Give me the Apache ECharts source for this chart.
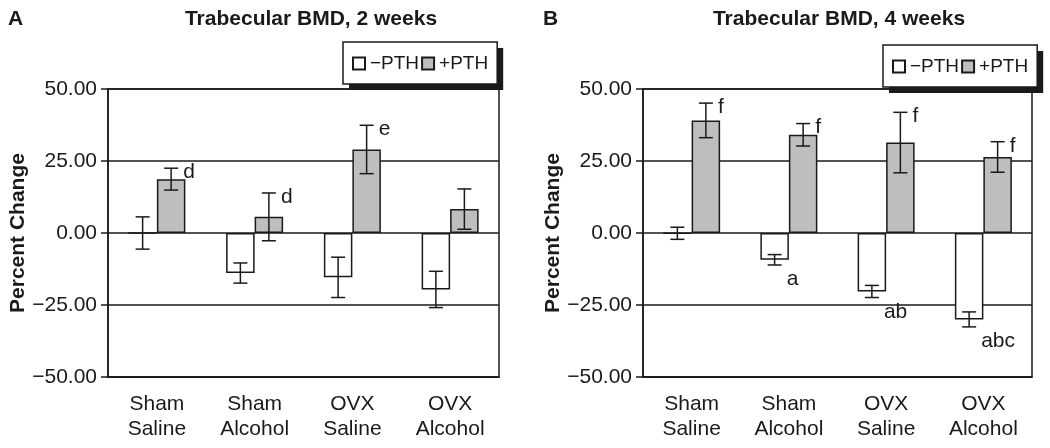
<!DOCTYPE html>
<html>
<head>
<meta charset="utf-8">
<title>Trabecular BMD</title>
<script src="https://cdn.jsdelivr.net/npm/echarts@6/dist/echarts.min.js"></script>
<style>
html, body {
  margin: 0;
  padding: 0;
  background: #fff;
}
#chart {
  width: 1050px;
  height: 448px;
}
</style>
</head>
<body>
<div id="chart"></div>
<script>
// categories
const groups = ["Sham\nSaline", "Sham\nAlcohol", "OVX\nSaline", "OVX\nAlcohol"];
const yTicks = [-50, -25, 0, 25, 50];

// panel A, 2 weeks (percent change, mean and error)
const minusPth2 = [0.0, -13.9, -15.4, -19.6];
const minusPth2Err = [5.6, 3.5, 7.0, 6.3];
const plusPth2 = [18.7, 5.6, 29.0, 8.3];
const plusPth2Err = [3.8, 8.3, 8.4, 7.0];
const minusPth2Sig = ["", "", "", ""];
const plusPth2Sig = ["d", "d", "e", ""];

// panel B, 4 weeks
const minusPth4 = [-0.1, -9.3, -20.3, -30.0];
const minusPth4Err = [2.1, 1.8, 2.1, 2.6];
const plusPth4 = [39.1, 34.1, 31.4, 26.4];
const plusPth4Err = [6.0, 3.9, 10.5, 5.3];
const minusPth4Sig = ["", "a", "ab", "abc"];
const plusPth4Sig = ["f", "f", "f", "f"];

const FONT = "'Liberation Sans', Arial, Helvetica, sans-serif";
const INK = "#1a1a1a";
const GREY = "#bebebe";
const BAR_W = 28.5;

function fmtTick(v) {
  return (v < 0 ? "\u2212" : "") + Math.abs(v).toFixed(2);
}

// error bars (and the significance letters) drawn on top of each bar
function errorSeries(gridIdx, means, errs, sigs, side) {
  return {
    type: "custom",
    xAxisIndex: gridIdx,
    yAxisIndex: gridIdx,
    z: 5,
    silent: true,
    data: means.map((m, i) => [i, m, errs[i]]),
    renderItem: function (params, api) {
      const i = api.value(0);
      const m = api.value(1);
      const e = api.value(2);
      const sig = sigs[i];
      const c = api.coord([i, m]);
      const cx = c[0] + side * BAR_W / 2;
      const top = api.coord([i, m + e])[1];
      const bot = api.coord([i, m - e])[1];
      const cap = 7;
      const ls = { stroke: INK, lineWidth: 1.5 };
      const children = [
        { type: "line", shape: { x1: cx, y1: top, x2: cx, y2: bot }, style: ls },
        { type: "line", shape: { x1: cx - cap, y1: top, x2: cx + cap, y2: top }, style: ls },
        { type: "line", shape: { x1: cx - cap, y1: bot, x2: cx + cap, y2: bot }, style: ls }
      ];
      if (sig) {
        const up = m >= 0;
        children.push({
          type: "text",
          style: {
            text: sig,
            x: cx + 12,
            y: up ? top + 4 : bot + 4,
            align: "left",
            verticalAlign: up ? "middle" : "top",
            font: "21px " + FONT,
            fill: INK
          }
        });
      }
      return { type: "group", children: children };
    }
  };
}

function barSeries(gridIdx, name, values, fill) {
  return {
    name: name,
    type: "bar",
    xAxisIndex: gridIdx,
    yAxisIndex: gridIdx,
    barWidth: BAR_W,
    barGap: "0%",
    data: values,
    itemStyle: { color: fill, borderColor: INK, borderWidth: 1.5 }
  };
}

function xAxisFor(gridIdx) {
  return {
    type: "category",
    gridIndex: gridIdx,
    data: groups,
    axisLine: { onZero: false, lineStyle: { color: INK, width: 1.5 } },
    axisTick: { show: false },
    axisLabel: {
      color: INK,
      fontFamily: FONT,
      fontSize: 21,
      lineHeight: 25,
      margin: 15
    }
  };
}

function yAxisFor(gridIdx) {
  return {
    type: "value",
    gridIndex: gridIdx,
    min: yTicks[0],
    max: yTicks[yTicks.length - 1],
    interval: 25,
    name: "Percent Change",
    nameLocation: "middle",
    nameGap: 77,
    nameTextStyle: { color: INK, fontFamily: FONT, fontSize: 21, fontWeight: "bold" },
    axisLine: { show: true, lineStyle: { color: INK, width: 1.5 } },
    axisTick: { show: true, length: 7, lineStyle: { color: INK, width: 1.5 } },
    axisLabel: {
      color: INK,
      fontFamily: FONT,
      fontSize: 21,
      margin: 11,
      formatter: fmtTick
    },
    splitLine: { show: true, lineStyle: { color: INK, width: 1.5 } }
  };
}

// the box with its hard black drop shadow: a black copy of the legend sits
// underneath, shifted down and right
function legendFor(left, top, shadow) {
  return {
    data: ["\u2212PTH", "+PTH"],
    left: shadow ? left + 6 : left,
    top: shadow ? top + 6 : top,
    z: shadow ? 3 : 4,
    orient: "horizontal",
    padding: [12, 9, 11, 9],
    itemGap: 2,
    itemWidth: 12,
    itemHeight: 12,
    icon: "rect",
    selectedMode: false,
    backgroundColor: shadow ? INK : "#fff",
    borderColor: INK,
    borderWidth: shadow ? 0 : 1.5,
    borderRadius: 0,
    itemStyle: shadow ? { color: "transparent", borderColor: "transparent" } : {},
    textStyle: { color: shadow ? "transparent" : INK, fontFamily: FONT, fontSize: 19 }
  };
}

const chart = echarts.init(document.getElementById("chart"), null, { renderer: "canvas" });

const titleStyle = { fontFamily: FONT, fontSize: 21, fontWeight: "bold", color: INK };

const option = {
  backgroundColor: "#fff",
  animation: false,
  textStyle: { fontFamily: FONT },
  title: [
    { text: "A", left: 3, top: 4, textStyle: titleStyle },
    { text: "Trabecular BMD, 2 weeks", left: 306, top: 4, textAlign: "center", textStyle: titleStyle },
    { text: "B", left: 538, top: 4, textStyle: titleStyle },
    { text: "Trabecular BMD, 4 weeks", left: 834, top: 4, textAlign: "center", textStyle: titleStyle }
  ],
  legend: [
    legendFor(343, 42, true),
    legendFor(343, 42, false),
    legendFor(883, 45, true),
    legendFor(883, 45, false)
  ],
  grid: [
    { left: 108, right: 551, top: 89, bottom: 71, show: true, borderColor: INK, borderWidth: 1.5 },
    { left: 643, right: 18, top: 89, bottom: 71, show: true, borderColor: INK, borderWidth: 1.5 }
  ],
  xAxis: [xAxisFor(0), xAxisFor(1)],
  yAxis: [yAxisFor(0), yAxisFor(1)],
  series: [
    barSeries(0, "\u2212PTH", minusPth2, "#fff"),
    barSeries(0, "+PTH", plusPth2, GREY),
    errorSeries(0, minusPth2, minusPth2Err, minusPth2Sig, -1),
    errorSeries(0, plusPth2, plusPth2Err, plusPth2Sig, 1),
    barSeries(1, "\u2212PTH", minusPth4, "#fff"),
    barSeries(1, "+PTH", plusPth4, GREY),
    errorSeries(1, minusPth4, minusPth4Err, minusPth4Sig, -1),
    errorSeries(1, plusPth4, plusPth4Err, plusPth4Sig, 1)
  ]
};

chart.setOption(option);
</script>
</body>
</html>
